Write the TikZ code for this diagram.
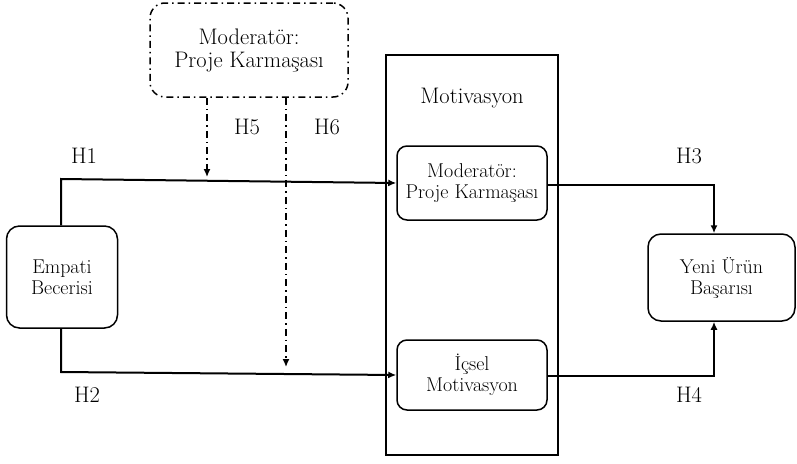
\documentclass[tikz,border=0pt]{standalone}
\usetikzlibrary{arrows.meta,positioning}
\begin{document}
\begin{tikzpicture}[x=1pt,y=-1pt,
    bigtxt/.style={font=\fontsize{22.5}{23}\selectfont},
    smalltxt/.style={font=\fontsize{20}{21}\selectfont},
    box/.style={draw,line width=1.5pt,rounded corners=13pt,align=center,inner sep=0pt,smalltxt},
    modbox/.style={draw,line width=1.5pt,rounded corners=15pt,align=center,inner sep=0pt,bigtxt,
        dash pattern=on 7pt off 4pt on 1.5pt off 4pt},
    conn/.style={line width=2pt,-{Latex[length=8pt,width=7pt]}},
    dd/.style={line width=1.4pt,dash pattern=on 7pt off 4pt on 1.5pt off 4pt,
        -{Latex[length=8pt,width=7pt]}},
    lbl/.style={bigtxt}]
    \useasboundingbox (0,0) rectangle (797,463);

    % moderator on top
    \node[modbox,minimum width=198pt,minimum height=94pt] (mod) at (249,50) {Moderat\"or:\\Proje Karma\c{s}as\i};

    % motivation block
    \node[draw,line width=1.3pt,minimum width=172pt,minimum height=400pt,inner sep=0pt] (motiv) at (472,255) {};
    \node[bigtxt] (motivt) at (472,98) {Motivasyon};
    \node[box,rounded corners=10pt,minimum width=150pt,minimum height=74pt] (mot1) at (472,183) {Moderat\"or:\\Proje Karma\c{s}as\i};
    \node[box,rounded corners=10pt,minimum width=150pt,minimum height=70pt] (mot2) at (472,375) {\.I\c{c}sel\\Motivasyon};

    \node[box,minimum width=111pt,minimum height=102pt] (emp) at (62,277) {Empati\\Becerisi};
    \node[box,minimum width=147pt,minimum height=87pt] (yeni) at (721.5,277.5) {Yeni \"Ur\"un\\Ba\c{s}ar\i s\i};

    % corners
    \coordinate (h1c) at (61,179);
    \coordinate (h2c) at (61,372);
    \coordinate (h3c) at (714,185);
    \coordinate (h4c) at (714,376);
    \coordinate (h5e) at (207,177);
    \coordinate (h6e) at (286,367);

    \draw[conn] (emp.north -| h1c) -- (h1c) -- (mot1.west);
    \draw[conn] (emp.south -| h2c) -- (h2c) -- (mot2.west);
    \draw[conn] (mot1.east |- h3c) -- (h3c) -- (h3c |- yeni.north);
    \draw[conn] (mot2.east |- h4c) -- (h4c) -- (h4c |- yeni.south);
    \draw[dd] (h5e |- mod.south) -- (h5e);
    \draw[dd] (h6e |- mod.south) -- (h6e);

    \node[lbl] (l1) at (84,156) {H1};
    \node[lbl] (l2) at (87,395) {H2};
    \node[lbl] (l3) at (689,156) {H3};
    \node[lbl] (l4) at (689,395) {H4};
    \node[lbl] (l5) at (247,127) {H5};
    \node[lbl] (l6) at (327,127) {H6};
\end{tikzpicture}
\end{document}
